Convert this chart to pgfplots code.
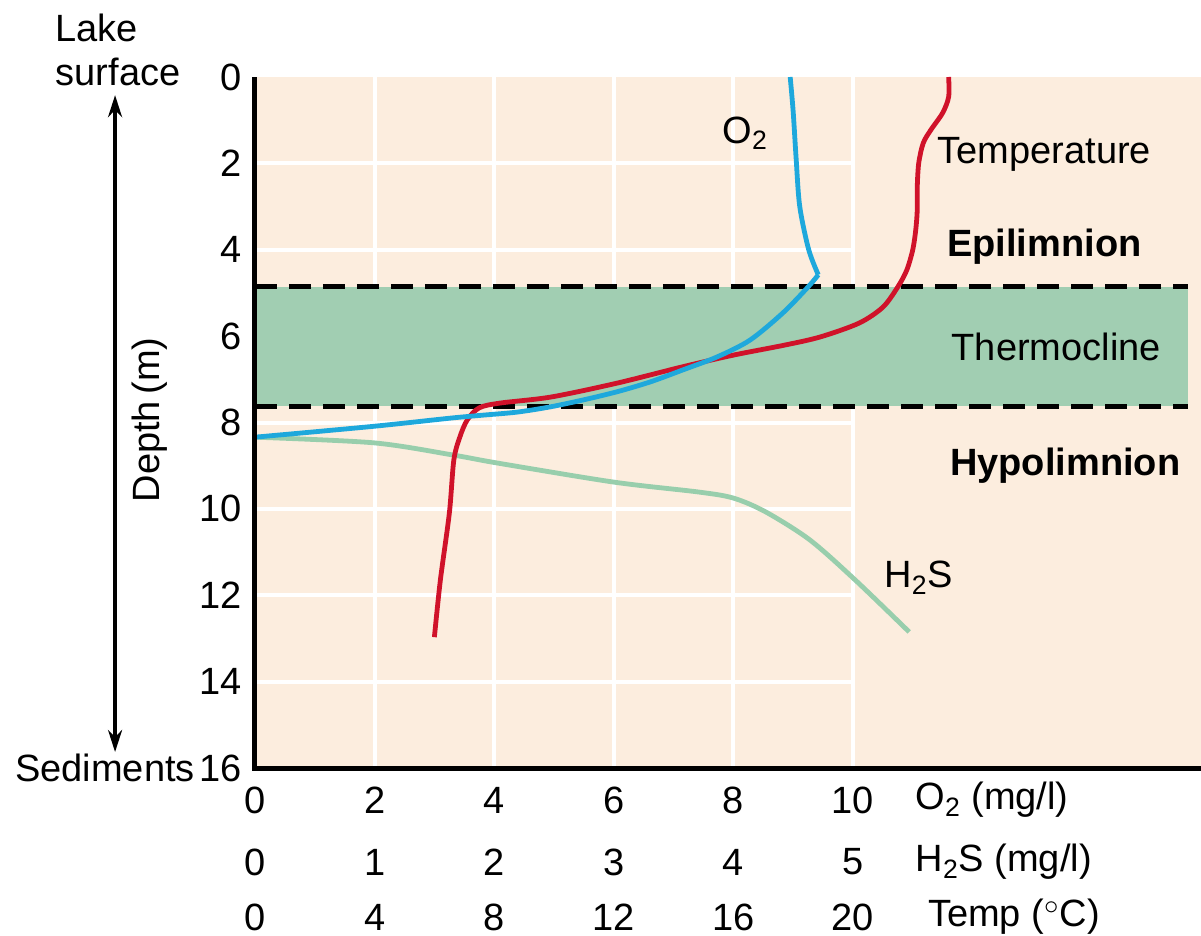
\documentclass[border=0pt]{standalone}
\usepackage{pgfplots}
\pgfplotsset{compat=1.18}
\usepackage{pgfplotstable}
\usetikzlibrary{arrows.meta}
\usepackage{fontspec}
\setmainfont{Liberation Sans}
\definecolor{bgc}{RGB}{252,237,222}
\definecolor{bandc}{RGB}{161,206,178}
\definecolor{o2c}{RGB}{30,168,220}
\definecolor{tc}{RGB}{208,18,42}
\definecolor{hc}{RGB}{152,206,172}

\pgfplotstableread{
x d
8.95 0
9.00 0.8
9.05 1.9
9.11 3.0
9.26 4.0
9.42 4.58
}\oxyup
\pgfplotstableread{
x d
9.42 4.58
9.25 4.86
8.83 5.46
8.28 6.09
7.73 6.48
7.16 6.78
6.61 7.06
6.05 7.29
5.48 7.48
4.93 7.64
4.38 7.76
3.81 7.83
3.26 7.90
1.97 8.09
0.00 8.34
}\oxylow
\pgfplotstableread{
t d
23.2 0
23.2 0.46
23.0 0.83
22.6 1.23
22.35 1.53
22.2 1.99
22.15 2.55
22.15 3.08
22.1 3.54
22.0 4.0
21.8 4.47
21.5 4.86
21.0 5.33
20.2 5.70
18.9 6.02
17.7 6.21
16.0 6.44
14.3 6.71
12.1 7.09
9.9 7.41
8.2 7.55
7.5 7.66
7.1 7.94
6.85 8.34
6.65 8.87
6.5 10.1
6.2 11.65
6.0 12.97
}\temp
\pgfplotstableread{
h d
0.00 8.34
0.99 8.47
1.65 8.75
2.03 8.94
3.00 9.38
3.71 9.61
4.00 9.75
4.27 10.07
4.64 10.72
5.02 11.65
5.47 12.85
}\hs

\begin{document}
\fontsize{19}{22}\selectfont
\begin{tikzpicture}[font=\fontsize{19}{22}\selectfont]
\path[use as bounding box] (-127.5pt,-84pt) rectangle (473pt,384pt);
\begin{axis}[
  scale only axis, width=473pt, height=345.5pt,
  xmin=0, xmax=15.82, ymin=0, ymax=16, y dir=reverse,
  axis line style={draw=none},
  axis background/.style={fill=bgc},
  xtick=\empty, ytick={0,2,...,16}, major tick length=0pt,
  yticklabel style={font=\fontsize{19}{22}\selectfont},
  /pgf/number format/assume math mode=true,
  clip=false,
]
% grid
\pgfplotsinvokeforeach{2,4,6,8,10}{
  \draw[white, line width=2pt] (axis cs:#1,0) -- (axis cs:#1,16);
}
\pgfplotsinvokeforeach{2,4,...,14}{
  \draw[white, line width=2pt] (axis cs:0,#1) -- (axis cs:10,#1);
}
% thermocline band
\addplot[fill=bandc, draw=none] coordinates {(0,4.86) (15.6,4.86) (15.6,7.62) (0,7.62)} -- cycle;
\addplot[black, line width=2.5pt, dash pattern=on 11pt off 6pt] coordinates {(0,4.86) (15.6,4.86)};
\addplot[black, line width=2.5pt, dash pattern=on 11pt off 6pt] coordinates {(0,7.62) (15.6,7.62)};
% curves
\addplot[hc, line width=2.4pt, smooth, tension=0.5] table[x expr=\thisrow{h}*2, y=d] {\hs};
\addplot[tc, line width=2.4pt, smooth, tension=0.5] table[x expr=\thisrow{t}/2, y=d] {\temp};
\addplot[o2c, line width=2.4pt, smooth, tension=0.5] table[x=x, y=d] {\oxyup};
\addplot[o2c, line width=2.4pt, smooth, tension=0.5] table[x=x, y=d] {\oxylow};
% axis lines
\draw[black, line width=2.5pt, line join=miter] (axis cs:0,0) -- (axis cs:0,16) -- (axis cs:15.82,16);
% in-plot labels
\node at (axis cs:8.2,1.3) {O\textsubscript{2}};
\node at (axis cs:13.2,1.8) {Temperature};
\node at (axis cs:13.2,3.94) {\bfseries Epilimnion};
\node at (axis cs:13.4,6.25) {Thermocline};
\node at (axis cs:13.55,9.0) {\bfseries Hypolimnion};
\node at (axis cs:11.1,11.6) {H\textsubscript{2}S};
% x tick rows
\pgfplotsinvokeforeach{0,2,4,6,8,10}{
  \node at (axis cs:#1,16) [yshift=-16pt] {#1};
}
\node at (axis cs:0,16) [yshift=-47pt] {0};
\node at (axis cs:2,16) [yshift=-47pt] {1};
\node at (axis cs:4,16) [yshift=-47pt] {2};
\node at (axis cs:6,16) [yshift=-47pt] {3};
\node at (axis cs:8,16) [yshift=-47pt] {4};
\node at (axis cs:10,16) [yshift=-47pt] {5};
\node at (axis cs:0,16) [yshift=-74.5pt] {0};
\node at (axis cs:2,16) [yshift=-74.5pt] {4};
\node at (axis cs:4,16) [yshift=-74.5pt] {8};
\node at (axis cs:6,16) [yshift=-74.5pt] {12};
\node at (axis cs:8,16) [yshift=-74.5pt] {16};
\node at (axis cs:10,16) [yshift=-74.5pt] {20};
\node[anchor=west, inner sep=0pt] at (axis cs:11.04,16) [yshift=-16pt] {O\textsubscript{2} (mg/l)};
\node[anchor=west, inner sep=0pt] at (axis cs:11.04,16) [yshift=-47pt] {H\textsubscript{2}S (mg/l)};
\node[anchor=west, inner sep=0pt] at (axis cs:11.25,16) [yshift=-74.5pt] {Temp ($^\circ$C)};
% left decorations
\draw[line width=1.75pt, {Stealth[length=11pt,width=7pt]}-{Stealth[length=11pt,width=7pt]}] (axis cs:-2.34,0.42) -- (axis cs:-2.34,15.63);
\node[anchor=west, align=left, inner sep=0pt] at (axis cs:-3.34,-0.62) {Lake\\surface};
\node[anchor=base east, inner sep=0pt] at (axis cs:-1.0,16) [yshift=-6.8pt] {Sediments};
\node[rotate=90] at (axis cs:-1.76,7.94) {Depth\,(m)};
\end{axis}
\end{tikzpicture}
\end{document}
